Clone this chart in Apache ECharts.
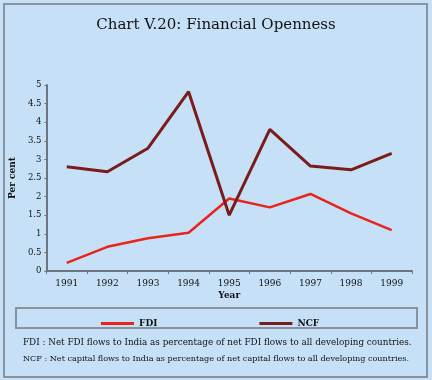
<!DOCTYPE html>
<html>
<head>
<meta charset="utf-8">
<script src="https://cdn.jsdelivr.net/npm/echarts@6/dist/echarts.min.js"></script>
<style>
html,body{margin:0;padding:0;background:#c6e0f7;}
#c{width:432px;height:380px;}
</style>
</head>
<body>
<div id="c"></div>
<script>
var years = ['1991','1992','1993','1994','1995','1996','1997','1998','1999'];
var fdi = [0.22, 0.65, 0.88, 1.03, 1.95, 1.71, 2.07, 1.55, 1.10];
var ncf = [2.80, 2.67, 3.30, 4.82, 1.50, 3.81, 2.82, 2.72, 3.16];
var yTicks = ['0','0.5','1','1.5','2','2.5','3','3.5','4','4.5','5'];

var serif = 'DejaVu Serif';
var chart = echarts.init(document.getElementById('c'), null, {renderer:'canvas'});
chart.setOption({
  backgroundColor: '#c6e0f7',
  animation: false,
  title: {
    text: 'Chart V.20: Financial Openness',
    left: 'center', top: 13,
    textStyle: {fontFamily: serif, fontSize: 15, fontWeight: 'normal', color: '#111'}
  },
  grid: {left: 42, right: 20, top: 85, bottom: 109},
  legend: {
    left: 96, top: 314, itemGap: 102,
    icon: 'rect', itemWidth: 33, itemHeight: 3,
    textStyle: {fontFamily: serif, fontSize: 9, fontWeight: 'bold', color: '#111'},
    data: ['FDI','NCF']
  },
  xAxis: {
    type: 'category', data: years, boundaryGap: true,
    name: 'Year', nameLocation: 'middle', nameGap: 20,
    nameTextStyle: {fontFamily: serif, fontSize: 9, fontWeight: 'bold', color: '#111'},
    axisLine: {lineStyle: {color: '#6d7580', width: 2}},
    axisTick: {show: true, length: 3, lineStyle: {color: '#6d7580'}},
    axisLabel: {fontFamily: serif, fontSize: 9, color: '#111', margin: 8}
  },
  yAxis: {
    type: 'value', min: 0, max: 5, interval: 0.5,
    name: 'Per cent', nameLocation: 'middle', nameGap: 29,
    nameTextStyle: {fontFamily: serif, fontSize: 9, fontWeight: 'bold', color: '#111'},
    axisLine: {show: true, lineStyle: {color: '#6d7580', width: 2}},
    axisTick: {show: true, length: 2, lineStyle: {color: '#6d7580'}},
    splitLine: {show: false},
    axisLabel: {fontFamily: serif, fontSize: 8.5, color: '#111', margin: 5,
      formatter: function(v){ var i = Math.round(v*2); return yTicks[i] !== undefined ? yTicks[i] : v; }}
  },
  series: [
    {name: 'FDI', type: 'line', data: fdi, symbol: 'none',
     lineStyle: {color: '#e8241b', width: 2.5}, itemStyle: {color: '#e8241b'}},
    {name: 'NCF', type: 'line', data: ncf, symbol: 'none',
     lineStyle: {color: '#7b1c1c', width: 3}, itemStyle: {color: '#7b1c1c'}}
  ],
  graphic: [
    {type: 'rect', shape: {x: 4, y: 4, width: 423, height: 373},
     style: {fill: 'none', stroke: '#8a929b', lineWidth: 2}, silent: true},
    {type: 'rect', shape: {x: 16, y: 308, width: 401, height: 20},
     style: {fill: 'none', stroke: '#8a929b', lineWidth: 2}, silent: true},
    {type: 'text', left: 23, top: 338,
     style: {text: 'FDI : Net FDI flows to India as percentage of net FDI flows to all developing countries.',
       font: '8.8px "DejaVu Serif"', fill: '#111'}},
    {type: 'text', left: 23, top: 355,
     style: {text: 'NCF : Net capital flows to India as percentage of net capital flows to all developing countries.',
       font: '8.1px "DejaVu Serif"', fill: '#111'}}
  ]
});
</script>
</body>
</html>
